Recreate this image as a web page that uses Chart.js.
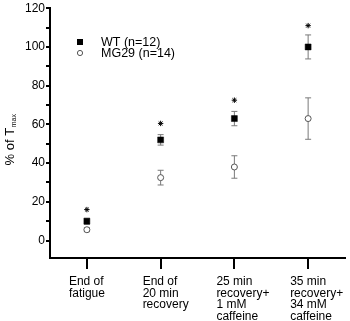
<!DOCTYPE html>
<html>
<head>
<meta charset="utf-8">
<script src="https://cdn.jsdelivr.net/npm/chart.js@4.4.1/dist/chart.umd.min.js"></script>
<style>
  html, body { margin: 0; padding: 0; background: #fff; }
  #chart { display: block; }
</style>
</head>
<body>
<canvas id="chart" width="350" height="321"></canvas>
<script>
// values (% of Tmax)
const categories = [
  ['End of', 'fatigue'],
  ['End of', '20 min', 'recovery'],
  ['25 min', 'recovery+', '1 mM', 'caffeine'],
  ['35 min', 'recovery+', '34 mM', 'caffeine']
];
const wtMean = [10, 52, 63, 100];
const wtErr = [1.5, 2.7, 3.7, 6.2];
const mgMean = [5.6, 32.5, 38, 63];
const mgErr = [1, 3.8, 5.8, 10.7];
const starLevel = [16, 60.5, 72.5, 111];
const yTicks = [0, 20, 40, 60, 80, 100, 120];

const FONT = '"Liberation Sans", Arial, sans-serif';

// gray error bars behind the markers
const errorBars = {
  id: 'errorBars',
  beforeDatasetsDraw(chart) {
    const ctx = chart.ctx;
    const y = chart.scales.y;
    ctx.save();
    ctx.strokeStyle = '#7a7a7a';
    ctx.lineWidth = 1;
    chart.data.datasets.forEach((ds, di) => {
      if (!ds.err) return;
      chart.getDatasetMeta(di).data.forEach((pt, i) => {
        const top = y.getPixelForValue(ds.data[i] + ds.err[i]);
        const bot = y.getPixelForValue(ds.data[i] - ds.err[i]);
        ctx.beginPath();
        ctx.moveTo(pt.x, top); ctx.lineTo(pt.x, bot);
        ctx.moveTo(pt.x - 3, top); ctx.lineTo(pt.x + 3, top);
        ctx.moveTo(pt.x - 3, bot); ctx.lineTo(pt.x + 3, bot);
        ctx.stroke();
      });
    });
    ctx.restore();
  }
};

// category labels (left-aligned blocks), y title and legend
const decorations = {
  id: 'decorations',
  afterDraw(chart) {
    const ctx = chart.ctx;
    const x = chart.scales.x;
    const area = chart.chartArea;
    ctx.save();
    ctx.fillStyle = '#000';
    ctx.font = '12px ' + FONT;
    ctx.textAlign = 'left';
    ctx.textBaseline = 'alphabetic';
    categories.forEach((lines, i) => {
      const px = x.getPixelForTick(i) - 18;
      lines.forEach((t, j) => ctx.fillText(t, px, area.bottom + 27 + j * 11.7));
    });

    // y axis title: % of T(max)
    ctx.translate(14, 140);
    ctx.rotate(-Math.PI / 2);
    ctx.textAlign = 'left';
    ctx.font = '13px ' + FONT;
    const main = '% of T';
    const w = ctx.measureText(main).width;
    ctx.font = '7px ' + FONT;
    const sw = ctx.measureText('max').width;
    const start = -(w + sw) / 2;
    ctx.font = '13px ' + FONT;
    ctx.fillText(main, start, 0);
    ctx.font = '7px ' + FONT;
    ctx.fillText('max', start + w + 0.5, 2);
    ctx.restore();

    // legend
    ctx.save();
    ctx.font = '12.5px ' + FONT;
    ctx.textBaseline = 'middle';
    ctx.fillStyle = '#000';
    ctx.fillRect(77, 39, 6, 6);
    ctx.fillText('WT (n=12)', 101, 42.5);
    ctx.beginPath();
    ctx.arc(80, 53, 2.6, 0, Math.PI * 2);
    ctx.fillStyle = '#fff';
    ctx.fill();
    ctx.strokeStyle = '#555';
    ctx.lineWidth = 1;
    ctx.stroke();
    ctx.fillStyle = '#000';
    ctx.fillText('MG29 (n=14)', 101, 53.5);
    ctx.restore();
  }
};

new Chart(document.getElementById('chart'), {
  type: 'line',
  data: {
    labels: categories.map(c => c.join(' ')),
    datasets: [
      {
        label: 'WT (n=12)',
        data: wtMean,
        err: wtErr,
        showLine: false,
        pointStyle: 'rect',
        pointRadius: 4.2,
        pointBackgroundColor: '#000',
        pointBorderColor: '#000',
        pointBorderWidth: 0.5
      },
      {
        label: 'MG29 (n=14)',
        data: mgMean,
        err: mgErr,
        showLine: false,
        pointStyle: 'circle',
        pointRadius: 3,
        pointBackgroundColor: '#fff',
        pointBorderColor: '#555',
        pointBorderWidth: 1
      },
      {
        label: 'significance',
        data: starLevel,
        showLine: false,
        pointStyle: 'star',
        pointRadius: 2.7,
        pointBorderColor: '#000',
        pointBorderWidth: 1
      }
    ]
  },
  options: {
    responsive: false,
    animation: false,
    layout: { padding: { top: 5, right: 4, left: 0, bottom: 0 } },
    plugins: { legend: { display: false }, tooltip: { enabled: false } },
    scales: {
      x: {
        offset: true,
        grid: { offset: false, drawOnChartArea: false, drawTicks: true, tickLength: 11, color: '#000', lineWidth: 2 },
        border: { display: true, color: '#000', width: 2 },
        ticks: { display: false },
        afterFit(scale) { scale.height = 63; }
      },
      y: {
        min: -9,
        max: 120,
        grid: { drawOnChartArea: false, drawTicks: true, tickLength: 4, color: '#000', lineWidth: 2 },
        border: { display: true, color: '#000', width: 2 },
        ticks: {
          stepSize: 10,
          padding: 1,
          color: '#000',
          font: { family: FONT, size: 12 },
          callback: v => (yTicks.includes(v) ? v : '')
        },
        afterBuildTicks(scale) {
          scale.ticks = scale.ticks.filter(t => t.value >= 0 && t.value % 10 === 0);
        },
        afterFit(scale) { scale.width = 50; }
      }
    }
  },
  plugins: [errorBars, decorations]
});
</script>
</body>
</html>
